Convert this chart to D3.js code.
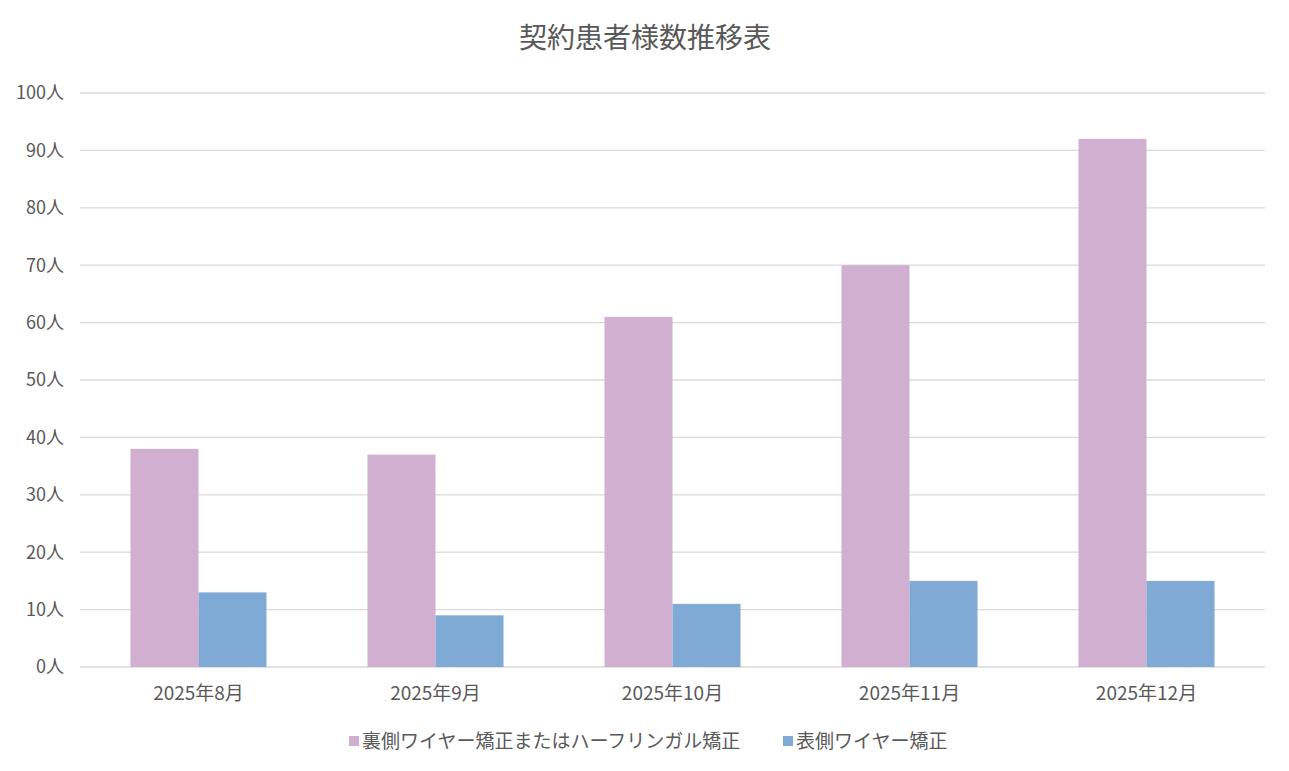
<!DOCTYPE html>
<html>
<head>
<meta charset="utf-8">
<script src="https://cdn.jsdelivr.net/npm/d3@7"></script>
<style>
  body { margin: 0; background: #fff; }
  svg text { font-family: "Noto Sans CJK JP", "Noto Sans", sans-serif; fill: #595959; }
</style>
</head>
<body>
<div id="chart"></div>
<script>
/* --- データ --- */
const months = ["2025年8月", "2025年9月", "2025年10月", "2025年11月", "2025年12月"];
const seriesNames = ["裏側ワイヤー矯正またはハーフリンガル矯正", "表側ワイヤー矯正"];
const lingualValues = [38, 37, 61, 70, 92];
const labialValues = [13, 9, 11, 15, 15];
const yTicks = [0, 10, 20, 30, 40, 50, 60, 70, 80, 90, 100];
const colors = ["#d1afd0", "#80aad6"];

const width = 1289, height = 771;
const margin = { top: 93, right: 24, bottom: 104, left: 80 };

const svg = d3.select("#chart").append("svg")
  .attr("width", width)
  .attr("height", height);

// タイトル
svg.append("text")
  .attr("x", 645)
  .attr("y", 48)
  .attr("text-anchor", "middle")
  .attr("font-size", "28px")
  .text("契約患者様数推移表");

const x = d3.scaleBand()
  .domain(months)
  .range([margin.left, width - margin.right])
  .paddingInner(0.426)
  .paddingOuter(0.213);

const xSub = d3.scaleBand()
  .domain([0, 1])
  .range([0, x.bandwidth()]);

const y = d3.scaleLinear()
  .domain([0, 100])
  .range([height - margin.bottom, margin.top]);

// グリッド線
svg.append("g")
  .selectAll("line")
  .data(yTicks)
  .join("line")
  .attr("x1", margin.left)
  .attr("x2", width - margin.right)
  .attr("y1", (d) => y(d))
  .attr("y2", (d) => y(d))
  .attr("stroke", "#d9d9d9")
  .attr("stroke-width", 1.3);

// Y軸ラベル
svg.append("g")
  .selectAll("text")
  .data(yTicks)
  .join("text")
  .attr("x", 64)
  .attr("y", (d) => y(d))
  .attr("dy", "0.35em")
  .attr("text-anchor", "end")
  .attr("font-size", "18px")
  .text((d) => d + "人");

// 棒
const rows = months.map((m, i) => ({ month: m, values: [lingualValues[i], labialValues[i]] }));

const groups = svg.append("g")
  .selectAll("g")
  .data(rows)
  .join("g")
  .attr("transform", (d) => `translate(${x(d.month)},0)`);

groups.selectAll("rect")
  .data((d) => d.values.map((v, k) => ({ v: v, k: k })))
  .join("rect")
  .attr("x", (d) => xSub(d.k))
  .attr("width", xSub.bandwidth())
  .attr("y", (d) => y(d.v))
  .attr("height", (d) => y(0) - y(d.v))
  .attr("fill", (d) => colors[d.k]);

// X軸ラベル
svg.append("g")
  .selectAll("text")
  .data(months)
  .join("text")
  .attr("x", (d) => x(d) + x.bandwidth() / 2)
  .attr("y", 693)
  .attr("dy", "0.35em")
  .attr("text-anchor", "middle")
  .attr("font-size", "19px")
  .text((d) => d);

// 凡例
const legendX = [349, 783];
const legend = svg.append("g")
  .selectAll("g")
  .data(seriesNames)
  .join("g")
  .attr("transform", (d, i) => `translate(${legendX[i]},741)`);

legend.append("rect")
  .attr("x", 0)
  .attr("y", -5)
  .attr("width", 10)
  .attr("height", 10)
  .attr("fill", (d, i) => colors[i]);

legend.append("text")
  .attr("x", 13)
  .attr("y", 0)
  .attr("dy", "0.35em")
  .attr("font-size", "19px")
  .text((d) => d);
</script>
</body>
</html>
